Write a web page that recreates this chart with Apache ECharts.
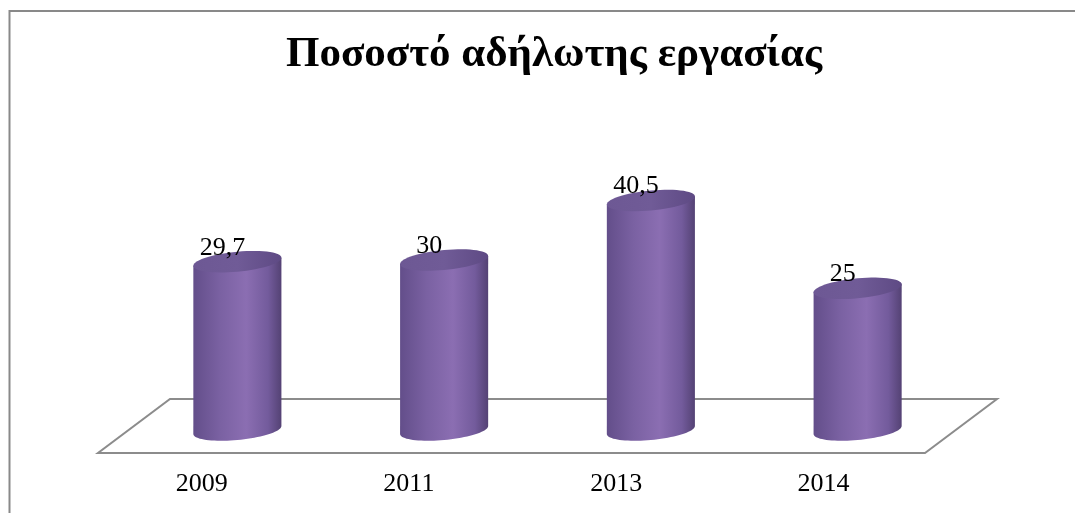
<!DOCTYPE html>
<html>
<head>
<meta charset="utf-8">
<script src="https://cdn.jsdelivr.net/npm/echarts@6/dist/echarts.min.js"></script>
<style>
html,body{margin:0;padding:0;background:#fff;}
#chart{width:1075px;height:513px;}
</style>
</head>
<body>
<div id="chart"></div>
<script>
const titleText = 'Ποσοστό αδήλωτης εργασίας';
const categories = ['2009', '2011', '2013', '2014'];
const values = [29.7, 30, 40.5, 25];
const valueLabels = ['29,7', '30', '40,5', '25'];

const chart = echarts.init(document.getElementById('chart'));
const serif = '"Liberation Serif", "Times New Roman", serif';

const bodyGrad = new echarts.graphic.LinearGradient(0, 0, 1, 0, [
  {offset: 0, color: '#634e8a'},
  {offset: 0.3, color: '#7a61a2'},
  {offset: 0.6, color: '#8b6eb2'},
  {offset: 0.85, color: '#735b9c'},
  {offset: 1, color: '#544274'}
]);
const topGrad = new echarts.graphic.LinearGradient(0, 0, 1, 0, [
  {offset: 0, color: '#6d5894'},
  {offset: 0.5, color: '#705b97'},
  {offset: 1, color: '#5e4a84'}
]);

function ellipsePts(cx, cy, a, b, s, t0, t1, n) {
  const pts = [];
  for (let i = 0; i <= n; i++) {
    const t = t0 + (t1 - t0) * i / n;
    pts.push([cx + a * Math.cos(t), cy + b * Math.sin(t) - s * Math.cos(t)]);
  }
  return pts;
}

function renderCylinder(params, api) {
  const idx = api.value(0);
  const v = api.value(1);
  const base = api.coord([idx, 0]);
  const top = api.coord([idx, v]);
  const bw = api.size([1, 0])[0];
  const a = bw * 0.213;
  const b = 10, s = 4;
  const cx = base[0];
  const body = [[cx - a, top[1] + s], [cx + a, top[1] - s]]
    .concat(ellipsePts(cx, base[1], a, b, s, 0, Math.PI, 40));
  const cap = ellipsePts(cx, top[1], a, b, s, 0, Math.PI * 2, 60);
  return {
    type: 'group',
    children: [
      {type: 'polygon', shape: {points: body}, style: {fill: bodyGrad}},
      {type: 'polygon', shape: {points: cap}, style: {fill: topGrad}},
      {type: 'text', z2: 10, style: {
        text: valueLabels[params.dataIndex], x: cx - 15, y: top[1] - 14,
        align: 'center', verticalAlign: 'middle',
        fontSize: 26, fontFamily: serif, fill: '#000'
      }}
    ]
  };
}

function renderFloor(params, api) {
  const cs = params.coordSys;
  const zy = api.coord([0, 0])[1];
  const d = 36;
  const yb = zy - 31, yf = zy + 23;
  const L = cs.x, R = cs.x + cs.width;
  return {
    type: 'polygon',
    shape: {points: [[L + d, yb], [R + d, yb], [R - d, yf], [L - d, yf]]},
    style: {fill: '#fff', stroke: '#8c8c8c', lineWidth: 2}
  };
}

chart.setOption({
  animation: false,
  backgroundColor: '#fff',
  graphic: [
    {type: 'polyline', silent: true,
     shape: {points: [[9.5, 600], [9.5, 11], [1080, 11]]},
     style: {stroke: '#898989', lineWidth: 2, fill: null}},
    {type: 'text', silent: true, x: 554, y: 55,
     style: {text: titleText, align: 'center', verticalAlign: 'middle',
             fontSize: 43, fontWeight: 'bold', fontFamily: serif, fill: '#000'}}
  ],
  grid: [
    {left: 134, width: 827, top: 175, bottom: 83},
    {left: 98, width: 829, top: 100, bottom: 60}
  ],
  xAxis: [
    {type: 'category', data: categories, gridIndex: 0, show: false},
    {type: 'category', data: categories, gridIndex: 1,
     axisLine: {show: false}, axisTick: {show: false},
     axisLabel: {fontSize: 26, fontFamily: serif, color: '#000', margin: 18}}
  ],
  yAxis: [
    {type: 'value', min: 0, max: 45, gridIndex: 0, show: false},
    {type: 'value', gridIndex: 1, show: false}
  ],
  series: [
    {type: 'custom', xAxisIndex: 0, yAxisIndex: 0, silent: true, z: 1,
     renderItem: renderFloor, data: [[0, 0]]},
    {type: 'custom', xAxisIndex: 0, yAxisIndex: 0, silent: true, z: 2,
     renderItem: renderCylinder,
     data: values.map((v, i) => [i, v])}
  ]
});
</script>
</body>
</html>
